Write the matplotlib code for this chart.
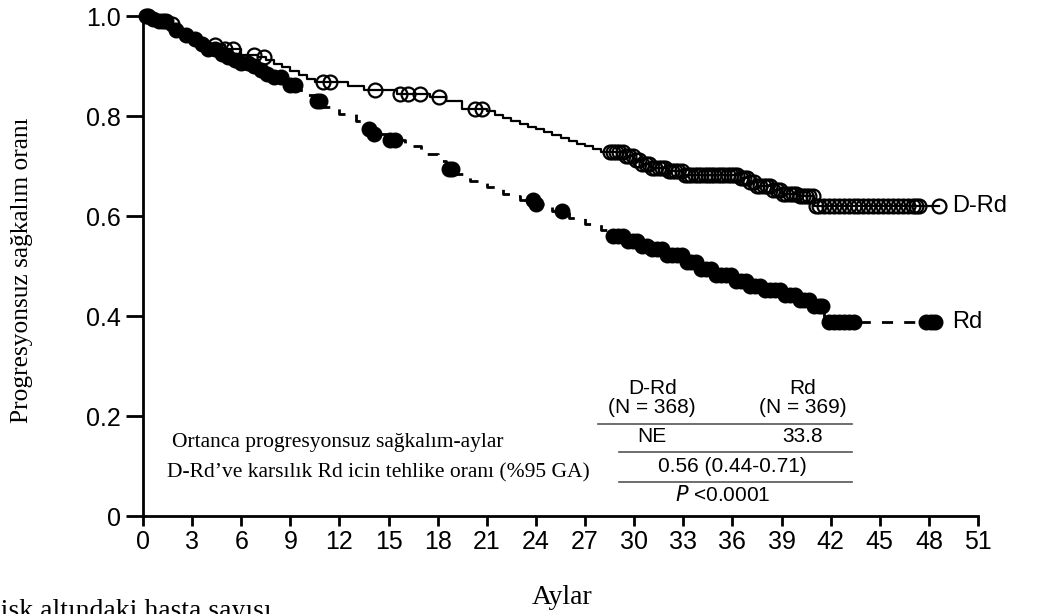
import matplotlib
matplotlib.use("Agg")
import matplotlib.pyplot as plt
import numpy as np

# Kaplan-Meier step data (months, survival)
drd_t = [0, 0.5, 1, 1.5, 2, 2.5, 3, 3.5, 4, 5, 6, 7, 7.5, 8, 8.5, 9, 9.5, 10, 10.5,
         12.5, 13.5, 15.5, 17.5, 18.5, 19.5, 21, 21.5, 22, 22.5, 23, 23.5, 24, 24.5,
         25, 25.5, 26, 26.5, 27, 27.5, 28, 29.5, 30, 30.5, 31, 32, 33, 36.5, 37, 37.5,
         38.5, 39, 40, 41, 48.6]
drd_s = [1.0, 0.995, 0.99, 0.985, 0.975, 0.965, 0.958, 0.95, 0.943, 0.935, 0.922,
         0.918, 0.912, 0.905, 0.898, 0.89, 0.882, 0.875, 0.868, 0.86, 0.852, 0.845,
         0.838, 0.83, 0.815, 0.81, 0.803, 0.797, 0.79, 0.785, 0.779, 0.774, 0.768,
         0.762, 0.757, 0.751, 0.745, 0.74, 0.735, 0.729, 0.72, 0.713, 0.705, 0.697,
         0.69, 0.683, 0.676, 0.668, 0.66, 0.652, 0.645, 0.64, 0.62, 0.62]
drd_cens = [0.3, 1.2, 1.8, 4.4, 5.0, 5.5, 6.8, 7.4, 11.0, 11.4, 14.2, 15.7, 16.2, 16.9,
            18.1, 20.3, 20.7, 28.5, 28.7, 28.9, 29.1, 29.3, 29.5, 29.7, 29.9, 30.1,
            30.3, 30.5, 30.7, 30.9, 31.1, 31.3, 31.5, 31.7, 31.9, 32.1, 32.3, 32.5,
            32.7, 32.9, 33.1, 33.3, 33.5, 33.7, 33.9, 34.1, 34.3, 34.5, 34.7, 34.9,
            35.1, 35.3, 35.5, 35.7, 35.9, 36.1, 36.3, 36.5, 36.7, 36.9, 37.1, 37.3,
            37.5, 37.7, 37.9, 38.1, 38.3, 38.5, 38.7, 38.9, 39.1, 39.3, 39.5, 39.7,
            39.9, 40.1, 40.3, 40.5, 40.7, 40.9, 41.1, 41.3, 41.6, 41.9, 42.2, 42.5,
            42.8, 43.1, 43.4, 43.7, 44.0, 44.3, 44.6, 44.9, 45.2, 45.5, 45.8, 46.1,
            46.4, 46.7, 47.0, 47.2, 47.4, 48.6]

rd_t = [0, 0.5, 1, 1.5, 2, 2.5, 3, 3.5, 4, 4.5, 5, 5.5, 6, 6.5, 7, 7.5, 8, 8.5, 9, 9.5,
        10, 10.5, 11, 12, 13, 13.5, 14, 15, 16, 17, 18, 18.5, 19, 20, 21, 22, 22.5, 23,
        24, 25, 26, 27, 28, 28.5, 29.5, 30.5, 31, 32, 33, 34, 35, 36, 37, 38, 39, 40,
        41, 41.6, 48.5]
rd_s = [1.0, 0.995, 0.99, 0.982, 0.972, 0.963, 0.955, 0.945, 0.935, 0.925, 0.918, 0.912,
        0.906, 0.9, 0.892, 0.885, 0.878, 0.87, 0.862, 0.853, 0.842, 0.83, 0.818, 0.805,
        0.79, 0.775, 0.765, 0.752, 0.74, 0.725, 0.71, 0.695, 0.685, 0.67, 0.658, 0.645,
        0.64, 0.632, 0.625, 0.61, 0.597, 0.585, 0.572, 0.56, 0.55, 0.54, 0.535, 0.523,
        0.508, 0.495, 0.483, 0.47, 0.46, 0.452, 0.443, 0.432, 0.42, 0.389, 0.389]
rd_cens = [0.2, 0.6, 1.0, 1.4, 2.0, 2.6, 3.2, 3.6, 4.0, 4.4, 4.8, 5.2, 5.6, 6.0, 6.4,
           6.8, 7.2, 7.6, 8.0, 8.4, 9.0, 9.3, 10.6, 10.8, 13.8, 14.1, 15.1, 15.4, 18.7,
           18.9, 23.8, 24.0, 25.6, 28.7, 29.0, 29.3, 29.6, 29.9, 30.2, 30.5, 30.8, 31.1,
           31.4, 31.7, 32.0, 32.3, 32.6, 32.9, 33.2, 33.5, 33.8, 34.1, 34.4, 34.7, 35.0,
           35.3, 35.6, 35.9, 36.2, 36.5, 36.8, 37.1, 37.4, 37.7, 38.0, 38.3, 38.6, 38.9,
           39.2, 39.5, 39.8, 40.1, 40.4, 40.7, 41.0, 41.3, 41.5, 41.9, 42.2, 42.5, 42.8,
           43.1, 43.4, 47.8, 48.1, 48.4]

x_ticks = list(range(0, 52, 3))
y_ticks = [0, 0.2, 0.4, 0.6, 0.8, 1.0]
y_ticklabels = ["0", "0.2", "0.4", "0.6", "0.8", "1.0"]


def step_value(t, s, x):
    idx = np.searchsorted(t, x, side="right") - 1
    return np.array(s)[idx]


fig = plt.figure(figsize=(10.45, 6.14), dpi=100)
ax = fig.add_axes([143 / 1045, 1 - 516 / 614, (978 - 143) / 1045, (516 - 16) / 614])

ax.plot(drd_t, drd_s, drawstyle="steps-post", color="black", lw=1.6, clip_on=False)
ax.plot(drd_cens, step_value(drd_t, drd_s, drd_cens), "o", ms=10, mfc="none",
        mec="black", mew=1.6, clip_on=False)

ax.plot(rd_t, rd_s, drawstyle="steps-post", color="black", lw=2,
        linestyle=(0, (4, 4)), clip_on=False)
ax.plot(rd_cens, step_value(rd_t, rd_s, rd_cens), "o", ms=10.5, color="black",
        clip_on=False)

ax.text(49.4, 0.62, "D-Rd", fontsize=17, family="Liberation Sans", va="center")
ax.text(49.4, 0.389, "Rd", fontsize=17, family="Liberation Sans", va="center")

ax.set_xlim(0, 51)
ax.set_ylim(0, 1.0)
ax.set_xticks(x_ticks)
ax.set_yticks(y_ticks)
ax.set_yticklabels(y_ticklabels)
for s in ["top", "right"]:
    ax.spines[s].set_visible(False)
for s in ["left", "bottom"]:
    ax.spines[s].set_linewidth(2)
ax.tick_params(axis="y", length=12, width=2, labelsize=18, pad=4)
ax.tick_params(axis="x", length=7, width=2, labelsize=18, pad=3)
for lab in ax.get_xticklabels() + ax.get_yticklabels():
    lab.set_family("Liberation Sans")

# summary table inside the plot
tfont = dict(fontsize=15, family="Liberation Sans", ha="center", va="center")
ax.text(31.1, 0.236, "D-Rd\n(N = 368)", linespacing=1.0, **tfont)
ax.text(40.3, 0.236, "Rd\n(N = 369)", linespacing=1.0, **tfont)
ax.text(31.1, 0.158, "NE", **tfont)
ax.text(40.3, 0.158, "33.8", **tfont)
ax.text(36.0, 0.098, "0.56 (0.44-0.71)", **tfont)
ax.text(35.4, 0.042, "$\\it{P}$ <0.0001", **tfont)
ax.plot([27.8, 43.3], [0.184, 0.184], color="#555555", lw=1.2)
ax.plot([29.1, 43.3], [0.128, 0.128], color="#555555", lw=1.2)
ax.plot([29.1, 43.3], [0.068, 0.068], color="#555555", lw=1.2)

sfont = dict(fontsize=15.5, family="Liberation Serif", va="center", ha="left")
ax.text(1.77, 0.148, "Ortanca progresyonsuz sağkalım-aylar", **sfont)
ax.text(1.47, 0.086, "D-Rd\u2019ve karsılık Rd icin tehlike oranı (%95 GA)", **sfont)

fig.text(22 / 1045, 1 - 270 / 614, "Progresyonsuz sağkalım oranı", rotation=90,
         fontsize=18.3, family="Liberation Serif", ha="center", va="center")
fig.text(562 / 1045, 1 - 597 / 614, "Aylar", fontsize=20, family="Liberation Serif",
         ha="center", va="center")
fig.text(-18 / 1045, 1 - 599 / 614, "Risk altındaki hasta sayısı", fontsize=20,
         family="Liberation Serif", ha="left", va="top")

fig.savefig("out.png", dpi=100)
